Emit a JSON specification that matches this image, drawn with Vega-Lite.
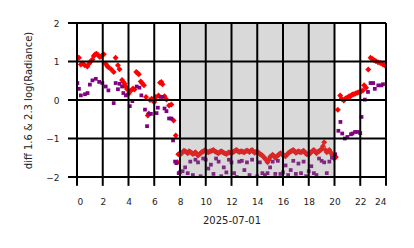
{
  "$schema": "https://vega.github.io/schema/vega-lite/v6.json",
  "width": 309,
  "height": 154,
  "autosize": {"type": "none"},
  "padding": {"left": 77, "top": 23, "right": 28, "bottom": 71},
  "config": {
    "view": {"stroke": null}
  },
  "datasets": {
    "pts": [
      {"h":0.0,"v":1.12,"s":"r"},{"h":0.15,"v":1.1,"s":"r"},{"h":0.3,"v":0.92,"s":"r"},{"h":0.45,"v":0.95,"s":"r"},{"h":0.6,"v":0.9,"s":"r"},{"h":0.8,"v":0.87,"s":"r"},{"h":0.95,"v":0.95,"s":"r"},{"h":1.05,"v":1.0,"s":"r"},{"h":1.2,"v":1.05,"s":"r"},{"h":1.3,"v":1.14,"s":"r"},{"h":1.4,"v":1.18,"s":"r"},{"h":1.5,"v":1.2,"s":"r"},{"h":1.6,"v":1.18,"s":"r"},{"h":1.77,"v":1.12,"s":"r"},{"h":1.9,"v":1.14,"s":"r"},{"h":2.08,"v":1.19,"s":"r"},{"h":2.23,"v":0.94,"s":"r"},{"h":2.35,"v":0.88,"s":"r"},{"h":2.44,"v":0.85,"s":"r"},{"h":2.65,"v":0.8,"s":"r"},{"h":2.85,"v":0.73,"s":"r"},{"h":3.0,"v":1.1,"s":"r"},{"h":3.18,"v":0.9,"s":"r"},{"h":3.3,"v":0.8,"s":"r"},{"h":3.5,"v":0.52,"s":"r"},{"h":3.6,"v":0.47,"s":"r"},{"h":3.7,"v":0.42,"s":"r"},{"h":3.8,"v":0.34,"s":"r"},{"h":3.9,"v":0.28,"s":"r"},{"h":4.0,"v":0.16,"s":"r"},{"h":4.2,"v":0.25,"s":"r"},{"h":4.35,"v":0.3,"s":"r"},{"h":4.46,"v":0.27,"s":"r"},{"h":4.6,"v":0.73,"s":"r"},{"h":4.7,"v":0.7,"s":"r"},{"h":4.8,"v":0.67,"s":"r"},{"h":4.95,"v":0.48,"s":"r"},{"h":5.05,"v":0.44,"s":"r"},{"h":5.2,"v":0.38,"s":"r"},{"h":5.36,"v":0.08,"s":"r"},{"h":5.5,"v":-0.4,"s":"r"},{"h":5.58,"v":-0.35,"s":"r"},{"h":5.67,"v":0.0,"s":"r"},{"h":5.8,"v":0.03,"s":"r"},{"h":5.9,"v":-0.02,"s":"r"},{"h":6.0,"v":-0.05,"s":"r"},{"h":6.13,"v":0.08,"s":"r"},{"h":6.33,"v":0.12,"s":"r"},{"h":6.45,"v":0.45,"s":"r"},{"h":6.55,"v":0.47,"s":"r"},{"h":6.64,"v":0.41,"s":"r"},{"h":6.8,"v":0.1,"s":"r"},{"h":6.95,"v":0.01,"s":"r"},{"h":7.15,"v":-0.14,"s":"r"},{"h":7.33,"v":-0.12,"s":"r"},{"h":7.5,"v":-0.53,"s":"r"},{"h":7.67,"v":-0.92,"s":"r"},{"h":7.8,"v":-1.62,"s":"r"},{"h":7.87,"v":-1.41,"s":"r"},
      {"h":8.0,"v":-1.42,"s":"r"},{"h":8.1,"v":-1.39,"s":"r"},{"h":8.2,"v":-1.36,"s":"r"},{"h":8.3,"v":-1.32,"s":"r"},{"h":8.4,"v":-1.33,"s":"r"},{"h":8.5,"v":-1.36,"s":"r"},{"h":8.6,"v":-1.38,"s":"r"},{"h":8.7,"v":-1.33,"s":"r"},{"h":8.8,"v":-1.35,"s":"r"},{"h":8.9,"v":-1.37,"s":"r"},{"h":9.0,"v":-1.4,"s":"r"},{"h":9.1,"v":-1.38,"s":"r"},{"h":9.2,"v":-1.36,"s":"r"},{"h":9.3,"v":-1.4,"s":"r"},{"h":9.4,"v":-1.44,"s":"r"},{"h":9.5,"v":-1.41,"s":"r"},{"h":9.6,"v":-1.38,"s":"r"},{"h":9.7,"v":-1.35,"s":"r"},{"h":9.8,"v":-1.34,"s":"r"},{"h":9.9,"v":-1.31,"s":"r"},{"h":10.0,"v":-1.32,"s":"r"},{"h":10.1,"v":-1.35,"s":"r"},{"h":10.2,"v":-1.36,"s":"r"},{"h":10.3,"v":-1.34,"s":"r"},{"h":10.4,"v":-1.33,"s":"r"},{"h":10.5,"v":-1.31,"s":"r"},{"h":10.6,"v":-1.3,"s":"r"},{"h":10.7,"v":-1.33,"s":"r"},{"h":10.8,"v":-1.35,"s":"r"},{"h":10.9,"v":-1.37,"s":"r"},{"h":11.0,"v":-1.38,"s":"r"},{"h":11.1,"v":-1.35,"s":"r"},{"h":11.2,"v":-1.33,"s":"r"},{"h":11.3,"v":-1.35,"s":"r"},{"h":11.4,"v":-1.37,"s":"r"},{"h":11.5,"v":-1.39,"s":"r"},{"h":11.6,"v":-1.4,"s":"r"},{"h":11.7,"v":-1.38,"s":"r"},{"h":11.8,"v":-1.36,"s":"r"},{"h":11.9,"v":-1.37,"s":"r"},{"h":12.0,"v":-1.38,"s":"r"},{"h":12.1,"v":-1.36,"s":"r"},{"h":12.2,"v":-1.34,"s":"r"},{"h":12.3,"v":-1.31,"s":"r"},{"h":12.4,"v":-1.3,"s":"r"},{"h":12.5,"v":-1.33,"s":"r"},{"h":12.6,"v":-1.35,"s":"r"},{"h":12.7,"v":-1.34,"s":"r"},{"h":12.8,"v":-1.33,"s":"r"},{"h":12.9,"v":-1.35,"s":"r"},{"h":13.0,"v":-1.36,"s":"r"},{"h":13.1,"v":-1.33,"s":"r"},{"h":13.2,"v":-1.31,"s":"r"},{"h":13.3,"v":-1.33,"s":"r"},{"h":13.4,"v":-1.35,"s":"r"},{"h":13.5,"v":-1.32,"s":"r"},{"h":13.6,"v":-1.3,"s":"r"},{"h":13.7,"v":-1.34,"s":"r"},{"h":13.8,"v":-1.37,"s":"r"},{"h":13.9,"v":-1.35,"s":"r"},{"h":14.0,"v":-1.34,"s":"r"},{"h":14.1,"v":-1.37,"s":"r"},{"h":14.2,"v":-1.4,"s":"r"},{"h":14.3,"v":-1.42,"s":"r"},{"h":14.4,"v":-1.44,"s":"r"},{"h":14.5,"v":-1.48,"s":"r"},{"h":14.6,"v":-1.52,"s":"r"},{"h":14.7,"v":-1.56,"s":"r"},{"h":14.8,"v":-1.62,"s":"r"},{"h":14.9,"v":-1.55,"s":"r"},{"h":15.0,"v":-1.48,"s":"r"},{"h":15.1,"v":-1.45,"s":"r"},{"h":15.2,"v":-1.42,"s":"r"},{"h":15.3,"v":-1.46,"s":"r"},{"h":15.4,"v":-1.5,"s":"r"},{"h":15.5,"v":-1.47,"s":"r"},{"h":15.6,"v":-1.44,"s":"r"},{"h":15.7,"v":-1.41,"s":"r"},{"h":15.8,"v":-1.38,"s":"r"},{"h":15.9,"v":-1.4,"s":"r"},{"h":16.0,"v":-1.42,"s":"r"},{"h":16.1,"v":-1.44,"s":"r"},{"h":16.2,"v":-1.46,"s":"r"},{"h":16.3,"v":-1.42,"s":"r"},{"h":16.4,"v":-1.38,"s":"r"},{"h":16.5,"v":-1.36,"s":"r"},{"h":16.6,"v":-1.34,"s":"r"},{"h":16.7,"v":-1.32,"s":"r"},{"h":16.8,"v":-1.3,"s":"r"},{"h":16.9,"v":-1.34,"s":"r"},{"h":17.0,"v":-1.37,"s":"r"},{"h":17.1,"v":-1.35,"s":"r"},{"h":17.2,"v":-1.33,"s":"r"},{"h":17.3,"v":-1.35,"s":"r"},{"h":17.4,"v":-1.36,"s":"r"},{"h":17.5,"v":-1.34,"s":"r"},{"h":17.6,"v":-1.32,"s":"r"},{"h":17.7,"v":-1.36,"s":"r"},{"h":17.8,"v":-1.4,"s":"r"},{"h":17.9,"v":-1.41,"s":"r"},{"h":18.0,"v":-1.42,"s":"r"},{"h":18.1,"v":-1.38,"s":"r"},{"h":18.2,"v":-1.35,"s":"r"},{"h":18.3,"v":-1.32,"s":"r"},{"h":18.4,"v":-1.3,"s":"r"},{"h":18.5,"v":-1.34,"s":"r"},{"h":18.6,"v":-1.38,"s":"r"},{"h":18.7,"v":-1.35,"s":"r"},{"h":18.8,"v":-1.33,"s":"r"},{"h":18.9,"v":-1.3,"s":"r"},{"h":19.0,"v":-1.28,"s":"r"},{"h":19.1,"v":-1.2,"s":"r"},{"h":19.2,"v":-1.1,"s":"r"},{"h":19.3,"v":-1.3,"s":"r"},{"h":19.4,"v":-1.36,"s":"r"},{"h":19.5,"v":-1.33,"s":"r"},{"h":19.6,"v":-1.3,"s":"r"},{"h":19.7,"v":-1.36,"s":"r"},{"h":19.8,"v":-1.42,"s":"r"},
      {"h":19.97,"v":-1.52,"s":"r"},{"h":20.1,"v":-1.48,"s":"r"},{"h":20.26,"v":-0.25,"s":"r"},{"h":20.44,"v":0.12,"s":"r"},{"h":20.56,"v":0.03,"s":"r"},{"h":20.72,"v":-0.01,"s":"r"},{"h":20.85,"v":0.04,"s":"r"},{"h":20.98,"v":0.06,"s":"r"},{"h":21.13,"v":0.1,"s":"r"},{"h":21.24,"v":0.1,"s":"r"},{"h":21.38,"v":0.14,"s":"r"},{"h":21.5,"v":0.15,"s":"r"},{"h":21.63,"v":0.17,"s":"r"},{"h":21.76,"v":0.19,"s":"r"},{"h":21.9,"v":0.2,"s":"r"},{"h":22.05,"v":0.22,"s":"r"},{"h":22.2,"v":0.25,"s":"r"},{"h":22.3,"v":0.38,"s":"r"},{"h":22.45,"v":0.32,"s":"r"},{"h":22.62,"v":0.79,"s":"r"},{"h":22.8,"v":1.1,"s":"r"},{"h":22.92,"v":1.07,"s":"r"},{"h":23.05,"v":1.04,"s":"r"},{"h":23.2,"v":1.01,"s":"r"},{"h":23.38,"v":0.98,"s":"r"},{"h":23.57,"v":0.96,"s":"r"},{"h":23.75,"v":0.93,"s":"r"},{"h":23.9,"v":0.9,"s":"r"},
      {"h":0.03,"v":0.44,"s":"p"},{"h":0.15,"v":0.29,"s":"p"},{"h":0.3,"v":0.12,"s":"p"},{"h":0.62,"v":0.15,"s":"p"},{"h":0.82,"v":0.18,"s":"p"},{"h":1.0,"v":0.4,"s":"p"},{"h":1.2,"v":0.51,"s":"p"},{"h":1.46,"v":0.55,"s":"p"},{"h":1.72,"v":0.47,"s":"p"},{"h":1.97,"v":0.44,"s":"p"},{"h":2.23,"v":0.35,"s":"p"},{"h":2.44,"v":0.25,"s":"p"},{"h":2.85,"v":-0.08,"s":"p"},{"h":3.0,"v":0.44,"s":"p"},{"h":3.18,"v":0.28,"s":"p"},{"h":3.3,"v":0.42,"s":"p"},{"h":3.5,"v":0.35,"s":"p"},{"h":3.6,"v":0.18,"s":"p"},{"h":3.8,"v":0.12,"s":"p"},{"h":4.1,"v":-0.16,"s":"p"},{"h":4.3,"v":-0.03,"s":"p"},{"h":4.64,"v":0.35,"s":"p"},{"h":4.85,"v":0.32,"s":"p"},{"h":5.0,"v":0.12,"s":"p"},{"h":5.28,"v":-0.25,"s":"p"},{"h":5.44,"v":-0.68,"s":"p"},{"h":5.6,"v":-0.36,"s":"p"},{"h":5.74,"v":-0.36,"s":"p"},{"h":6.18,"v":-0.34,"s":"p"},{"h":6.28,"v":-0.2,"s":"p"},{"h":6.5,"v":0.08,"s":"p"},{"h":6.64,"v":0.08,"s":"p"},{"h":6.8,"v":-0.22,"s":"p"},{"h":6.95,"v":-0.29,"s":"p"},{"h":7.15,"v":-0.48,"s":"p"},{"h":7.33,"v":-0.48,"s":"p"},{"h":7.46,"v":-1.05,"s":"p"},{"h":7.62,"v":-1.6,"s":"p"},{"h":7.72,"v":-1.64,"s":"p"},{"h":7.9,"v":-1.9,"s":"p"},
      {"h":8.0,"v":-1.88,"s":"p"},{"h":8.2,"v":-1.85,"s":"p"},{"h":8.4,"v":-1.75,"s":"p"},{"h":8.6,"v":-1.9,"s":"p"},{"h":8.8,"v":-1.6,"s":"p"},{"h":9.0,"v":-1.95,"s":"p"},{"h":9.2,"v":-1.55,"s":"p"},{"h":9.4,"v":-1.62,"s":"p"},{"h":9.6,"v":-1.98,"s":"p"},{"h":9.8,"v":-1.52,"s":"p"},{"h":10.0,"v":-1.55,"s":"p"},{"h":10.2,"v":-1.78,"s":"p"},{"h":10.4,"v":-1.68,"s":"p"},{"h":10.6,"v":-1.92,"s":"p"},{"h":10.8,"v":-1.52,"s":"p"},{"h":11.0,"v":-1.6,"s":"p"},{"h":11.2,"v":-1.98,"s":"p"},{"h":11.4,"v":-1.75,"s":"p"},{"h":11.6,"v":-1.88,"s":"p"},{"h":11.8,"v":-1.55,"s":"p"},{"h":12.0,"v":-1.62,"s":"p"},{"h":12.2,"v":-1.9,"s":"p"},{"h":12.4,"v":-2.0,"s":"p"},{"h":12.6,"v":-1.6,"s":"p"},{"h":12.8,"v":-1.58,"s":"p"},{"h":13.0,"v":-1.82,"s":"p"},{"h":13.2,"v":-1.62,"s":"p"},{"h":13.4,"v":-1.95,"s":"p"},{"h":13.6,"v":-1.55,"s":"p"},{"h":13.8,"v":-2.02,"s":"p"},{"h":14.0,"v":-1.98,"s":"p"},{"h":14.2,"v":-1.62,"s":"p"},{"h":14.4,"v":-1.9,"s":"p"},{"h":14.6,"v":-1.95,"s":"p"},{"h":14.8,"v":-1.9,"s":"p"},{"h":15.0,"v":-1.75,"s":"p"},{"h":15.2,"v":-1.6,"s":"p"},{"h":15.4,"v":-1.92,"s":"p"},{"h":15.6,"v":-1.58,"s":"p"},{"h":15.8,"v":-1.92,"s":"p"},{"h":16.0,"v":-1.88,"s":"p"},{"h":16.2,"v":-1.7,"s":"p"},{"h":16.4,"v":-1.95,"s":"p"},{"h":16.6,"v":-1.82,"s":"p"},{"h":16.8,"v":-1.58,"s":"p"},{"h":17.0,"v":-1.92,"s":"p"},{"h":17.2,"v":-1.65,"s":"p"},{"h":17.4,"v":-1.9,"s":"p"},{"h":17.6,"v":-1.6,"s":"p"},{"h":17.8,"v":-1.98,"s":"p"},{"h":18.0,"v":-1.85,"s":"p"},{"h":18.2,"v":-1.72,"s":"p"},{"h":18.4,"v":-1.9,"s":"p"},{"h":18.6,"v":-1.95,"s":"p"},{"h":18.8,"v":-1.52,"s":"p"},{"h":19.0,"v":-1.58,"s":"p"},{"h":19.2,"v":-1.62,"s":"p"},{"h":19.4,"v":-1.9,"s":"p"},{"h":19.6,"v":-1.6,"s":"p"},{"h":19.8,"v":-1.5,"s":"p"},
      {"h":20.05,"v":-1.41,"s":"p"},{"h":20.3,"v":-0.8,"s":"p"},{"h":20.46,"v":-0.57,"s":"p"},{"h":20.6,"v":-0.87,"s":"p"},{"h":20.8,"v":-1.0,"s":"p"},{"h":21.0,"v":-0.96,"s":"p"},{"h":21.28,"v":-0.89,"s":"p"},{"h":21.4,"v":-0.87,"s":"p"},{"h":21.6,"v":-0.83,"s":"p"},{"h":21.8,"v":-0.83,"s":"p"},{"h":22.0,"v":-0.86,"s":"p"},{"h":22.1,"v":-0.44,"s":"p"},{"h":22.36,"v":0.01,"s":"p"},{"h":22.6,"v":0.21,"s":"p"},{"h":22.8,"v":0.44,"s":"p"},{"h":23.0,"v":0.44,"s":"p"},{"h":23.13,"v":0.29,"s":"p"},{"h":23.4,"v":0.38,"s":"p"},{"h":23.64,"v":0.38,"s":"p"},{"h":23.77,"v":0.41,"s":"p"}
    ],
    "night": [{"x0": 8, "x1": 20}],
    "xticks": [{"t":0},{"t":2},{"t":4},{"t":6},{"t":8},{"t":10},{"t":12},{"t":14},{"t":16},{"t":18},{"t":20},{"t":22},{"t":24}],
    "yticks": [{"t":-2},{"t":-1},{"t":0},{"t":1},{"t":2}]
  },
  "layer": [
    {
      "data": {"name": "pts"},
      "transform": [{"filter": "datum.s === 'r'"}],
      "mark": {"type": "point", "shape": "diamond", "filled": true, "size": 36, "color": "#ff0000", "opacity": 1, "clip": true},
      "encoding": {
        "x": {"field": "h", "type": "quantitative", "scale": {"domain": [0, 24], "nice": false},
              "axis": {"values": [0,2,4,6,8,10,12,14,16,18,20,22,24], "tickCount": 30, "format": "d",
                       "grid": false, "domain": false, "ticks": false,
                       "labelFont": "DejaVu Sans", "labelFontSize": 9, "labelColor": "#222222", "labelPadding": 20,
                       "title": "2025-07-01", "titleFont": "DejaVu Sans", "titleFontSize": 10, "titleFontWeight": "normal", "titleColor": "#222222", "titlePadding": 9}},
        "y": {"field": "v", "type": "quantitative", "scale": {"domain": [-2, 2], "nice": false},
              "axis": {"values": [-2,-1,0,1,2], "tickCount": 10, "format": "d",
                       "grid": false, "domain": false, "ticks": false,
                       "labelFont": "DejaVu Sans", "labelFontSize": 9, "labelColor": "#222222", "labelPadding": 18,
                       "title": "diff 1.6 & 2.3  log(Radiance)", "titleFont": "DejaVu Sans", "titleFontSize": 10, "titleFontWeight": "normal", "titleColor": "#222222", "titlePadding": 12}}
      }
    },
    {
      "data": {"name": "pts"},
      "transform": [{"filter": "datum.s === 'p'"}],
      "mark": {"type": "point", "shape": "square", "filled": true, "size": 14, "color": "#800080", "opacity": 1, "clip": true},
      "encoding": {
        "x": {"field": "h", "type": "quantitative"},
        "y": {"field": "v", "type": "quantitative"}
      }
    },
    {
      "data": {"name": "night"},
      "mark": {"type": "rect", "color": "#808080", "opacity": 0.3},
      "encoding": {
        "x": {"field": "x0", "type": "quantitative"},
        "x2": {"field": "x1"}
      }
    },
    {
      "data": {"name": "xticks"},
      "mark": {"type": "rule", "color": "#000000", "strokeWidth": 2},
      "encoding": {
        "x": {"field": "t", "type": "quantitative"},
        "y": {"datum": -2.23},
        "y2": {"datum": 2}
      }
    },
    {
      "data": {"name": "yticks"},
      "mark": {"type": "rule", "color": "#000000", "strokeWidth": 2},
      "encoding": {
        "y": {"field": "t", "type": "quantitative"},
        "x": {"datum": -0.7},
        "x2": {"datum": 24}
      }
    }
  ]
}
